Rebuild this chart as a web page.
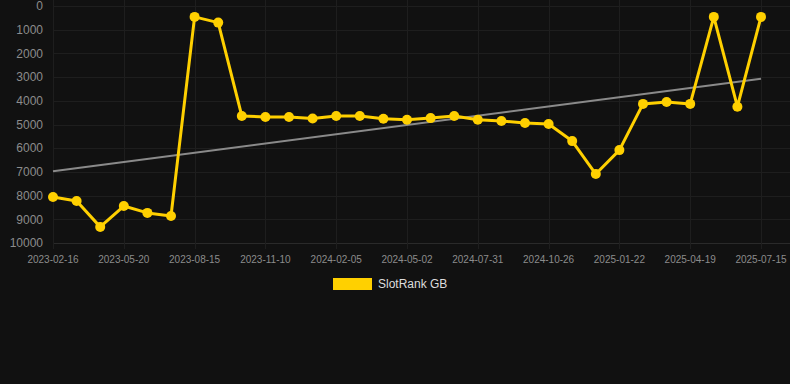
<!DOCTYPE html>
<html>
<head>
<meta charset="utf-8">
<script src="https://cdn.jsdelivr.net/npm/d3@7"></script>
<style>
  body { margin: 0; background: #111111; }
  svg { display: block; }
</style>
</head>
<body>
<div class="chart-container"></div>
<script>
// Width and height
const w = 790;
const h = 384;

// data: one point per month-ish, only every third date labelled
const dates = [
  "2023-02-16", "2023-03-19", "2023-04-19", "2023-05-20", "2023-06-18", "2023-07-17",
  "2023-08-15", "2023-09-13", "2023-10-12", "2023-11-10", "2023-12-09", "2024-01-07",
  "2024-02-05", "2024-03-05", "2024-04-03", "2024-05-02", "2024-06-01", "2024-07-01",
  "2024-07-31", "2024-08-29", "2024-09-27", "2024-10-26", "2024-11-24", "2024-12-23",
  "2025-01-22", "2025-02-20", "2025-03-21", "2025-04-19", "2025-05-18", "2025-06-16",
  "2025-07-15"
];
const ranks = [
  8060, 8230, 9320, 8440, 8730, 8860,
  460, 700, 4640, 4680, 4680, 4750,
  4640, 4640, 4760, 4800, 4730, 4640,
  4800, 4850, 4940, 4980, 5700, 7090,
  6080, 4130, 4050, 4130, 460, 4250,
  460
];
const yTicks = [0, 1000, 2000, 3000, 4000, 5000, 6000, 7000, 8000, 9000, 10000];
const seriesName = "SlotRank GB";

const margin = { top: 6, right: 29, bottom: 141, left: 53 };
const lineColor = "#ffd000";

const svg = d3
  .select(".chart-container")
  .append("svg")
  .attr("width", w)
  .attr("height", h);

const x = d3
  .scalePoint()
  .domain(dates)
  .range([margin.left, w - margin.right]);

// rank axis is reversed: 0 on top
const y = d3
  .scaleLinear()
  .domain([0, 10000])
  .range([margin.top, h - margin.bottom]);

const labelled = dates.filter((d, i) => i % 3 === 0);

// grid
const grid = svg.append("g").attr("class", "grid");

grid
  .selectAll(".hgrid")
  .data(yTicks)
  .enter()
  .append("line")
  .attr("x1", margin.left)
  .attr("x2", w)
  .attr("y1", (d) => Math.round(y(d)) + 0.5)
  .attr("y2", (d) => Math.round(y(d)) + 0.5)
  .attr("stroke", (d) => (d === 10000 ? "#2a2a2a" : "#1e1e1e"))
  .attr("stroke-width", 1);

grid
  .selectAll(".vgrid")
  .data(labelled)
  .enter()
  .append("line")
  .attr("x1", (d) => Math.round(x(d)) + 0.5)
  .attr("x2", (d) => Math.round(x(d)) + 0.5)
  .attr("y1", margin.top - 6)
  .attr("y2", h - margin.bottom + 6)
  .attr("stroke", "#1e1e1e")
  .attr("stroke-width", 1);

// y axis labels
svg
  .append("g")
  .selectAll("text")
  .data(yTicks)
  .enter()
  .append("text")
  .attr("x", 43)
  .attr("y", (d) => y(d))
  .attr("dy", "0.35em")
  .attr("text-anchor", "end")
  .attr("fill", "#8c8c8c")
  .style("font", "12px 'Liberation Sans', Arial, sans-serif")
  .text((d) => d);

// x axis labels
svg
  .append("g")
  .selectAll("text")
  .data(labelled)
  .enter()
  .append("text")
  .attr("x", (d) => x(d))
  .attr("y", h - margin.bottom + 16)
  .attr("dy", "0.35em")
  .attr("text-anchor", "middle")
  .attr("fill", "#8c8c8c")
  .style("font", "10px 'Liberation Sans', Arial, sans-serif")
  .text((d) => d);

// trend line (least squares over index)
const n = ranks.length;
const meanI = d3.mean(ranks, (d, i) => i);
const meanV = d3.mean(ranks);
const slope =
  d3.sum(ranks, (d, i) => (i - meanI) * (d - meanV)) /
  d3.sum(ranks, (d, i) => (i - meanI) * (i - meanI));
const icpt = meanV - slope * meanI;

svg
  .append("line")
  .attr("x1", x(dates[0]))
  .attr("y1", y(icpt))
  .attr("x2", x(dates[n - 1]))
  .attr("y2", y(icpt + slope * (n - 1)))
  .attr("stroke", "#8a8a8a")
  .attr("stroke-width", 2);

// series line
const line = d3
  .line()
  .x((d, i) => x(dates[i]))
  .y((d) => y(d));

svg
  .append("path")
  .datum(ranks)
  .attr("d", line)
  .attr("fill", "none")
  .attr("stroke", lineColor)
  .attr("stroke-width", 3)
  .attr("stroke-linejoin", "round");

svg
  .append("g")
  .selectAll("circle")
  .data(ranks)
  .enter()
  .append("circle")
  .attr("cx", (d, i) => x(dates[i]))
  .attr("cy", (d) => y(d))
  .attr("r", 5)
  .attr("fill", lineColor);

// legend
const legend = svg.append("g").attr("transform", "translate(333,278)");
legend
  .append("rect")
  .attr("width", 39)
  .attr("height", 12)
  .attr("fill", lineColor);
legend
  .append("text")
  .attr("x", 45)
  .attr("y", 6)
  .attr("dy", "0.35em")
  .attr("fill", "#dddddd")
  .style("font", "12px 'Liberation Sans', Arial, sans-serif")
  .text(seriesName);
</script>
</body>
</html>
